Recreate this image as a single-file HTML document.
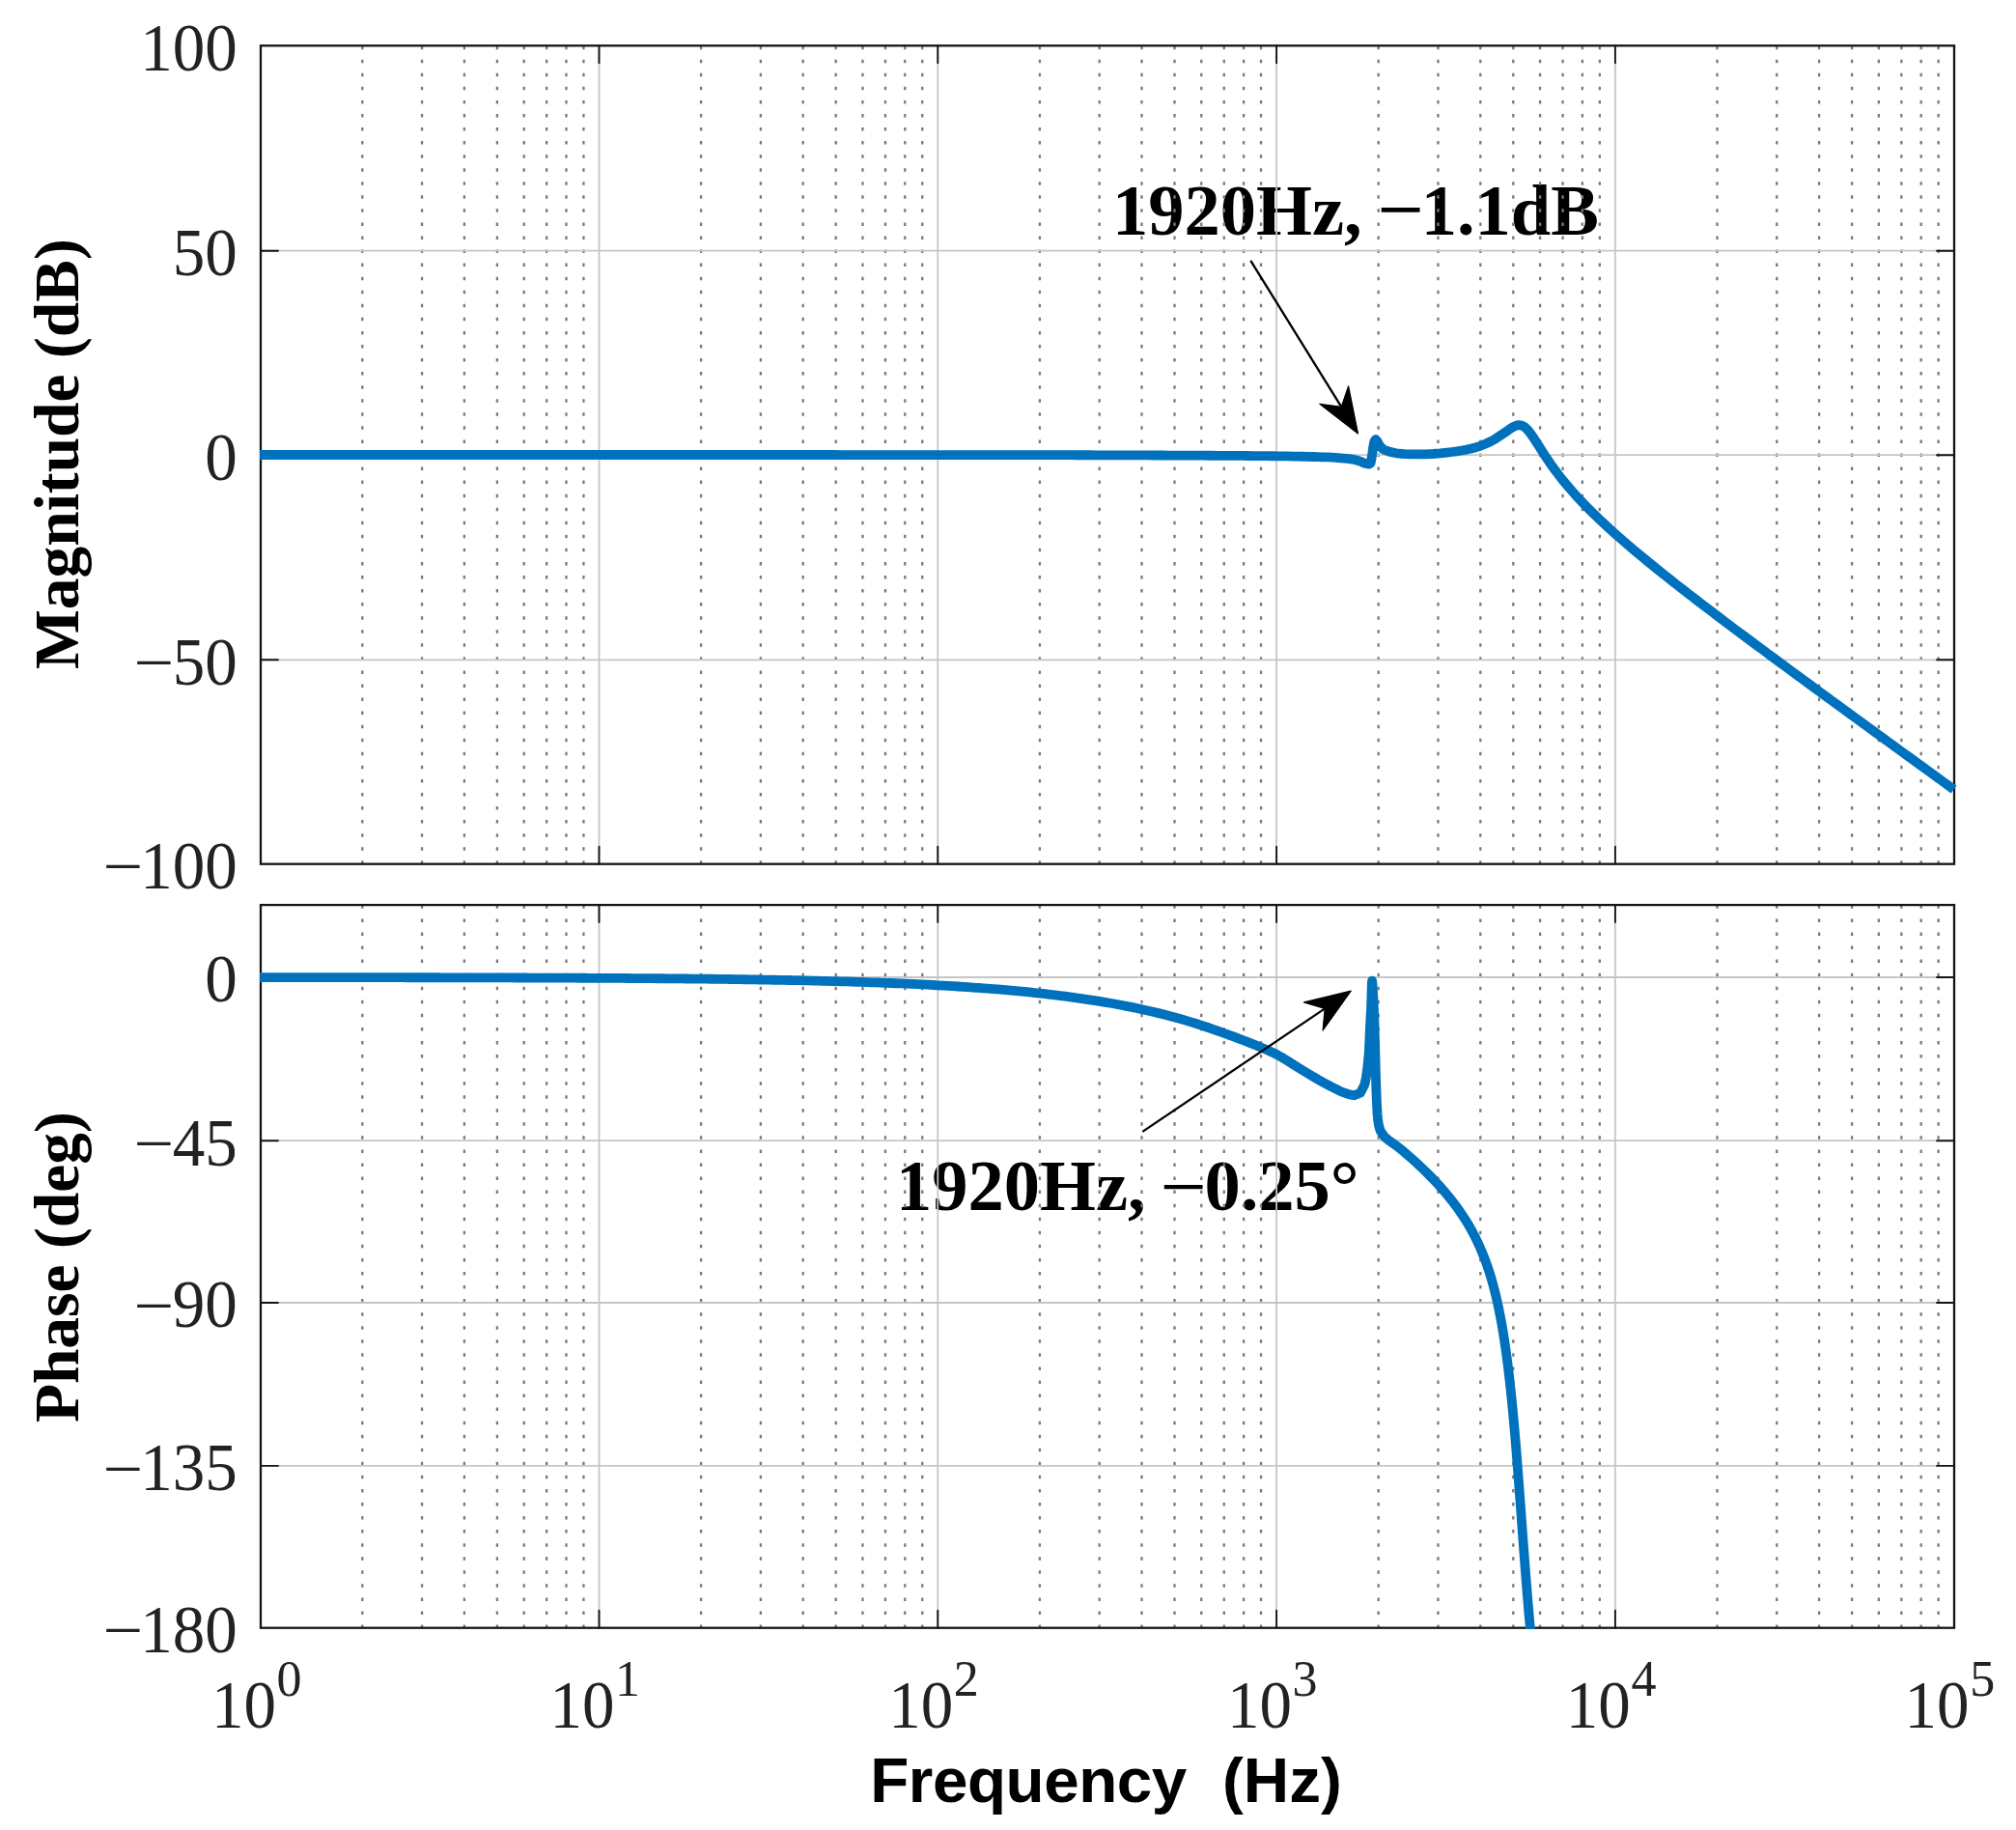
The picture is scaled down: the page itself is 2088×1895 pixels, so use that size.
<!DOCTYPE html>
<html><head><meta charset="utf-8"><title>Bode plot</title>
<style>
html,body{margin:0;padding:0;background:#fff;overflow:hidden;}
svg{display:block;}
.tk{font-family:"Liberation Serif",serif;font-size:67px;fill:#222;}
.sup{font-family:"Liberation Serif",serif;font-size:52px;fill:#222;}
.yl{font-family:"Liberation Serif",serif;font-weight:bold;font-size:65.5px;fill:#000;}
.xl{font-family:"Liberation Sans",sans-serif;font-weight:bold;font-size:65.6px;fill:#000;}
.an{font-family:"Liberation Serif",serif;font-weight:bold;font-size:74.5px;fill:#000;}
</style></head><body>
<svg width="2088" height="1895" viewBox="0 0 2088 1895">
<rect width="2088" height="1895" fill="#fff"/>

<defs>
<clipPath id="c1"><rect x="269.1" y="47.3" width="1766.9" height="847.4000000000001"/></clipPath>
<clipPath id="c2"><rect x="269.1" y="937.1" width="1754.9" height="749.6"/></clipPath>
</defs>
<text class="an" x="1152" y="242.7">1920Hz,</text>
<text transform="translate(1426.24,248.37) scale(1,1.080)" font-family="Liberation Serif, serif" font-size="85.54" fill="#000">−</text>
<text class="an" x="1471.7" y="242.7">1.1dB</text>
<text class="an" x="928" y="1252.5">1920Hz,</text>
<text transform="translate(1201.74,1257.77) scale(1,1.009)" font-family="Liberation Serif, serif" font-size="85.54" fill="#000">−</text>
<text class="an" x="1247.4" y="1252.5">0.25°</text>
<line x1="375.30" y1="47.65" x2="375.30" y2="894.70" stroke="#797979" stroke-width="2.3" stroke-dasharray="3.5 10.56"/>
<line x1="437.07" y1="47.65" x2="437.07" y2="894.70" stroke="#797979" stroke-width="2.3" stroke-dasharray="3.5 10.56"/>
<line x1="480.90" y1="47.65" x2="480.90" y2="894.70" stroke="#797979" stroke-width="2.3" stroke-dasharray="3.5 10.56"/>
<line x1="514.90" y1="47.65" x2="514.90" y2="894.70" stroke="#797979" stroke-width="2.3" stroke-dasharray="3.5 10.56"/>
<line x1="542.68" y1="47.65" x2="542.68" y2="894.70" stroke="#797979" stroke-width="2.3" stroke-dasharray="3.5 10.56"/>
<line x1="566.16" y1="47.65" x2="566.16" y2="894.70" stroke="#797979" stroke-width="2.3" stroke-dasharray="3.5 10.56"/>
<line x1="586.50" y1="47.65" x2="586.50" y2="894.70" stroke="#797979" stroke-width="2.3" stroke-dasharray="3.5 10.56"/>
<line x1="604.45" y1="47.65" x2="604.45" y2="894.70" stroke="#797979" stroke-width="2.3" stroke-dasharray="3.5 10.56"/>
<line x1="726.10" y1="47.65" x2="726.10" y2="894.70" stroke="#797979" stroke-width="2.3" stroke-dasharray="3.5 10.56"/>
<line x1="787.87" y1="47.65" x2="787.87" y2="894.70" stroke="#797979" stroke-width="2.3" stroke-dasharray="3.5 10.56"/>
<line x1="831.70" y1="47.65" x2="831.70" y2="894.70" stroke="#797979" stroke-width="2.3" stroke-dasharray="3.5 10.56"/>
<line x1="865.70" y1="47.65" x2="865.70" y2="894.70" stroke="#797979" stroke-width="2.3" stroke-dasharray="3.5 10.56"/>
<line x1="893.48" y1="47.65" x2="893.48" y2="894.70" stroke="#797979" stroke-width="2.3" stroke-dasharray="3.5 10.56"/>
<line x1="916.96" y1="47.65" x2="916.96" y2="894.70" stroke="#797979" stroke-width="2.3" stroke-dasharray="3.5 10.56"/>
<line x1="937.30" y1="47.65" x2="937.30" y2="894.70" stroke="#797979" stroke-width="2.3" stroke-dasharray="3.5 10.56"/>
<line x1="955.25" y1="47.65" x2="955.25" y2="894.70" stroke="#797979" stroke-width="2.3" stroke-dasharray="3.5 10.56"/>
<line x1="1076.90" y1="47.65" x2="1076.90" y2="894.70" stroke="#797979" stroke-width="2.3" stroke-dasharray="3.5 10.56"/>
<line x1="1138.67" y1="47.65" x2="1138.67" y2="894.70" stroke="#797979" stroke-width="2.3" stroke-dasharray="3.5 10.56"/>
<line x1="1182.50" y1="47.65" x2="1182.50" y2="894.70" stroke="#797979" stroke-width="2.3" stroke-dasharray="3.5 10.56"/>
<line x1="1216.50" y1="47.65" x2="1216.50" y2="894.70" stroke="#797979" stroke-width="2.3" stroke-dasharray="3.5 10.56"/>
<line x1="1244.28" y1="47.65" x2="1244.28" y2="894.70" stroke="#797979" stroke-width="2.3" stroke-dasharray="3.5 10.56"/>
<line x1="1267.76" y1="47.65" x2="1267.76" y2="894.70" stroke="#797979" stroke-width="2.3" stroke-dasharray="3.5 10.56"/>
<line x1="1288.10" y1="47.65" x2="1288.10" y2="894.70" stroke="#797979" stroke-width="2.3" stroke-dasharray="3.5 10.56"/>
<line x1="1306.05" y1="47.65" x2="1306.05" y2="894.70" stroke="#797979" stroke-width="2.3" stroke-dasharray="3.5 10.56"/>
<line x1="1427.70" y1="47.65" x2="1427.70" y2="894.70" stroke="#797979" stroke-width="2.3" stroke-dasharray="3.5 10.56"/>
<line x1="1489.47" y1="47.65" x2="1489.47" y2="894.70" stroke="#797979" stroke-width="2.3" stroke-dasharray="3.5 10.56"/>
<line x1="1533.30" y1="47.65" x2="1533.30" y2="894.70" stroke="#797979" stroke-width="2.3" stroke-dasharray="3.5 10.56"/>
<line x1="1567.30" y1="47.65" x2="1567.30" y2="894.70" stroke="#797979" stroke-width="2.3" stroke-dasharray="3.5 10.56"/>
<line x1="1595.08" y1="47.65" x2="1595.08" y2="894.70" stroke="#797979" stroke-width="2.3" stroke-dasharray="3.5 10.56"/>
<line x1="1618.56" y1="47.65" x2="1618.56" y2="894.70" stroke="#797979" stroke-width="2.3" stroke-dasharray="3.5 10.56"/>
<line x1="1638.90" y1="47.65" x2="1638.90" y2="894.70" stroke="#797979" stroke-width="2.3" stroke-dasharray="3.5 10.56"/>
<line x1="1656.85" y1="47.65" x2="1656.85" y2="894.70" stroke="#797979" stroke-width="2.3" stroke-dasharray="3.5 10.56"/>
<line x1="1778.50" y1="47.65" x2="1778.50" y2="894.70" stroke="#797979" stroke-width="2.3" stroke-dasharray="3.5 10.56"/>
<line x1="1840.27" y1="47.65" x2="1840.27" y2="894.70" stroke="#797979" stroke-width="2.3" stroke-dasharray="3.5 10.56"/>
<line x1="1884.10" y1="47.65" x2="1884.10" y2="894.70" stroke="#797979" stroke-width="2.3" stroke-dasharray="3.5 10.56"/>
<line x1="1918.10" y1="47.65" x2="1918.10" y2="894.70" stroke="#797979" stroke-width="2.3" stroke-dasharray="3.5 10.56"/>
<line x1="1945.88" y1="47.65" x2="1945.88" y2="894.70" stroke="#797979" stroke-width="2.3" stroke-dasharray="3.5 10.56"/>
<line x1="1969.36" y1="47.65" x2="1969.36" y2="894.70" stroke="#797979" stroke-width="2.3" stroke-dasharray="3.5 10.56"/>
<line x1="1989.70" y1="47.65" x2="1989.70" y2="894.70" stroke="#797979" stroke-width="2.3" stroke-dasharray="3.5 10.56"/>
<line x1="2007.65" y1="47.65" x2="2007.65" y2="894.70" stroke="#797979" stroke-width="2.3" stroke-dasharray="3.5 10.56"/>
<line x1="620.50" y1="47.30" x2="620.50" y2="894.70" stroke="#c6c6c6" stroke-width="1.8"/>
<line x1="971.30" y1="47.30" x2="971.30" y2="894.70" stroke="#c6c6c6" stroke-width="1.8"/>
<line x1="1322.10" y1="47.30" x2="1322.10" y2="894.70" stroke="#c6c6c6" stroke-width="1.8"/>
<line x1="1672.90" y1="47.30" x2="1672.90" y2="894.70" stroke="#c6c6c6" stroke-width="1.8"/>
<line x1="270.00" y1="259.70" x2="2024.00" y2="259.70" stroke="#c6c6c6" stroke-width="1.8"/>
<line x1="270.00" y1="471.20" x2="2024.00" y2="471.20" stroke="#c6c6c6" stroke-width="1.8"/>
<line x1="270.00" y1="683.30" x2="2024.00" y2="683.30" stroke="#c6c6c6" stroke-width="1.8"/>
<line x1="375.30" y1="937.35" x2="375.30" y2="1685.70" stroke="#797979" stroke-width="2.3" stroke-dasharray="3.5 10.56"/>
<line x1="437.07" y1="937.35" x2="437.07" y2="1685.70" stroke="#797979" stroke-width="2.3" stroke-dasharray="3.5 10.56"/>
<line x1="480.90" y1="937.35" x2="480.90" y2="1685.70" stroke="#797979" stroke-width="2.3" stroke-dasharray="3.5 10.56"/>
<line x1="514.90" y1="937.35" x2="514.90" y2="1685.70" stroke="#797979" stroke-width="2.3" stroke-dasharray="3.5 10.56"/>
<line x1="542.68" y1="937.35" x2="542.68" y2="1685.70" stroke="#797979" stroke-width="2.3" stroke-dasharray="3.5 10.56"/>
<line x1="566.16" y1="937.35" x2="566.16" y2="1685.70" stroke="#797979" stroke-width="2.3" stroke-dasharray="3.5 10.56"/>
<line x1="586.50" y1="937.35" x2="586.50" y2="1685.70" stroke="#797979" stroke-width="2.3" stroke-dasharray="3.5 10.56"/>
<line x1="604.45" y1="937.35" x2="604.45" y2="1685.70" stroke="#797979" stroke-width="2.3" stroke-dasharray="3.5 10.56"/>
<line x1="726.10" y1="937.35" x2="726.10" y2="1685.70" stroke="#797979" stroke-width="2.3" stroke-dasharray="3.5 10.56"/>
<line x1="787.87" y1="937.35" x2="787.87" y2="1685.70" stroke="#797979" stroke-width="2.3" stroke-dasharray="3.5 10.56"/>
<line x1="831.70" y1="937.35" x2="831.70" y2="1685.70" stroke="#797979" stroke-width="2.3" stroke-dasharray="3.5 10.56"/>
<line x1="865.70" y1="937.35" x2="865.70" y2="1685.70" stroke="#797979" stroke-width="2.3" stroke-dasharray="3.5 10.56"/>
<line x1="893.48" y1="937.35" x2="893.48" y2="1685.70" stroke="#797979" stroke-width="2.3" stroke-dasharray="3.5 10.56"/>
<line x1="916.96" y1="937.35" x2="916.96" y2="1685.70" stroke="#797979" stroke-width="2.3" stroke-dasharray="3.5 10.56"/>
<line x1="937.30" y1="937.35" x2="937.30" y2="1685.70" stroke="#797979" stroke-width="2.3" stroke-dasharray="3.5 10.56"/>
<line x1="955.25" y1="937.35" x2="955.25" y2="1685.70" stroke="#797979" stroke-width="2.3" stroke-dasharray="3.5 10.56"/>
<line x1="1076.90" y1="937.35" x2="1076.90" y2="1685.70" stroke="#797979" stroke-width="2.3" stroke-dasharray="3.5 10.56"/>
<line x1="1138.67" y1="937.35" x2="1138.67" y2="1685.70" stroke="#797979" stroke-width="2.3" stroke-dasharray="3.5 10.56"/>
<line x1="1182.50" y1="937.35" x2="1182.50" y2="1685.70" stroke="#797979" stroke-width="2.3" stroke-dasharray="3.5 10.56"/>
<line x1="1216.50" y1="937.35" x2="1216.50" y2="1685.70" stroke="#797979" stroke-width="2.3" stroke-dasharray="3.5 10.56"/>
<line x1="1244.28" y1="937.35" x2="1244.28" y2="1685.70" stroke="#797979" stroke-width="2.3" stroke-dasharray="3.5 10.56"/>
<line x1="1267.76" y1="937.35" x2="1267.76" y2="1685.70" stroke="#797979" stroke-width="2.3" stroke-dasharray="3.5 10.56"/>
<line x1="1288.10" y1="937.35" x2="1288.10" y2="1685.70" stroke="#797979" stroke-width="2.3" stroke-dasharray="3.5 10.56"/>
<line x1="1306.05" y1="937.35" x2="1306.05" y2="1685.70" stroke="#797979" stroke-width="2.3" stroke-dasharray="3.5 10.56"/>
<line x1="1427.70" y1="937.35" x2="1427.70" y2="1685.70" stroke="#797979" stroke-width="2.3" stroke-dasharray="3.5 10.56"/>
<line x1="1489.47" y1="937.35" x2="1489.47" y2="1685.70" stroke="#797979" stroke-width="2.3" stroke-dasharray="3.5 10.56"/>
<line x1="1533.30" y1="937.35" x2="1533.30" y2="1685.70" stroke="#797979" stroke-width="2.3" stroke-dasharray="3.5 10.56"/>
<line x1="1567.30" y1="937.35" x2="1567.30" y2="1685.70" stroke="#797979" stroke-width="2.3" stroke-dasharray="3.5 10.56"/>
<line x1="1595.08" y1="937.35" x2="1595.08" y2="1685.70" stroke="#797979" stroke-width="2.3" stroke-dasharray="3.5 10.56"/>
<line x1="1618.56" y1="937.35" x2="1618.56" y2="1685.70" stroke="#797979" stroke-width="2.3" stroke-dasharray="3.5 10.56"/>
<line x1="1638.90" y1="937.35" x2="1638.90" y2="1685.70" stroke="#797979" stroke-width="2.3" stroke-dasharray="3.5 10.56"/>
<line x1="1656.85" y1="937.35" x2="1656.85" y2="1685.70" stroke="#797979" stroke-width="2.3" stroke-dasharray="3.5 10.56"/>
<line x1="1778.50" y1="937.35" x2="1778.50" y2="1685.70" stroke="#797979" stroke-width="2.3" stroke-dasharray="3.5 10.56"/>
<line x1="1840.27" y1="937.35" x2="1840.27" y2="1685.70" stroke="#797979" stroke-width="2.3" stroke-dasharray="3.5 10.56"/>
<line x1="1884.10" y1="937.35" x2="1884.10" y2="1685.70" stroke="#797979" stroke-width="2.3" stroke-dasharray="3.5 10.56"/>
<line x1="1918.10" y1="937.35" x2="1918.10" y2="1685.70" stroke="#797979" stroke-width="2.3" stroke-dasharray="3.5 10.56"/>
<line x1="1945.88" y1="937.35" x2="1945.88" y2="1685.70" stroke="#797979" stroke-width="2.3" stroke-dasharray="3.5 10.56"/>
<line x1="1969.36" y1="937.35" x2="1969.36" y2="1685.70" stroke="#797979" stroke-width="2.3" stroke-dasharray="3.5 10.56"/>
<line x1="1989.70" y1="937.35" x2="1989.70" y2="1685.70" stroke="#797979" stroke-width="2.3" stroke-dasharray="3.5 10.56"/>
<line x1="2007.65" y1="937.35" x2="2007.65" y2="1685.70" stroke="#797979" stroke-width="2.3" stroke-dasharray="3.5 10.56"/>
<line x1="620.50" y1="937.10" x2="620.50" y2="1685.70" stroke="#c6c6c6" stroke-width="1.8"/>
<line x1="971.30" y1="937.10" x2="971.30" y2="1685.70" stroke="#c6c6c6" stroke-width="1.8"/>
<line x1="1322.10" y1="937.10" x2="1322.10" y2="1685.70" stroke="#c6c6c6" stroke-width="1.8"/>
<line x1="1672.90" y1="937.10" x2="1672.90" y2="1685.70" stroke="#c6c6c6" stroke-width="1.8"/>
<line x1="270.00" y1="1012.00" x2="2024.00" y2="1012.00" stroke="#c6c6c6" stroke-width="1.8"/>
<line x1="270.00" y1="1181.20" x2="2024.00" y2="1181.20" stroke="#c6c6c6" stroke-width="1.8"/>
<line x1="270.00" y1="1349.00" x2="2024.00" y2="1349.00" stroke="#c6c6c6" stroke-width="1.8"/>
<line x1="270.00" y1="1517.90" x2="2024.00" y2="1517.90" stroke="#c6c6c6" stroke-width="1.8"/>
<line x1="620.50" y1="47.30" x2="620.50" y2="65.30" stroke="#141414" stroke-width="1.9" stroke-linecap="round"/>
<line x1="620.50" y1="894.70" x2="620.50" y2="876.70" stroke="#141414" stroke-width="1.9" stroke-linecap="round"/>
<line x1="971.30" y1="47.30" x2="971.30" y2="65.30" stroke="#141414" stroke-width="1.9" stroke-linecap="round"/>
<line x1="971.30" y1="894.70" x2="971.30" y2="876.70" stroke="#141414" stroke-width="1.9" stroke-linecap="round"/>
<line x1="1322.10" y1="47.30" x2="1322.10" y2="65.30" stroke="#141414" stroke-width="1.9" stroke-linecap="round"/>
<line x1="1322.10" y1="894.70" x2="1322.10" y2="876.70" stroke="#141414" stroke-width="1.9" stroke-linecap="round"/>
<line x1="1672.90" y1="47.30" x2="1672.90" y2="65.30" stroke="#141414" stroke-width="1.9" stroke-linecap="round"/>
<line x1="1672.90" y1="894.70" x2="1672.90" y2="876.70" stroke="#141414" stroke-width="1.9" stroke-linecap="round"/>
<line x1="270.00" y1="259.70" x2="288.00" y2="259.70" stroke="#141414" stroke-width="1.9" stroke-linecap="round"/>
<line x1="2024.00" y1="259.70" x2="2006.00" y2="259.70" stroke="#141414" stroke-width="1.9" stroke-linecap="round"/>
<line x1="270.00" y1="471.20" x2="288.00" y2="471.20" stroke="#141414" stroke-width="1.9" stroke-linecap="round"/>
<line x1="2024.00" y1="471.20" x2="2006.00" y2="471.20" stroke="#141414" stroke-width="1.9" stroke-linecap="round"/>
<line x1="270.00" y1="683.30" x2="288.00" y2="683.30" stroke="#141414" stroke-width="1.9" stroke-linecap="round"/>
<line x1="2024.00" y1="683.30" x2="2006.00" y2="683.30" stroke="#141414" stroke-width="1.9" stroke-linecap="round"/>
<rect x="270.00" y="47.30" width="1754.00" height="847.40" fill="none" stroke="#141414" stroke-width="2.3"/>
<line x1="620.50" y1="937.10" x2="620.50" y2="955.10" stroke="#141414" stroke-width="1.9" stroke-linecap="round"/>
<line x1="620.50" y1="1685.70" x2="620.50" y2="1667.70" stroke="#141414" stroke-width="1.9" stroke-linecap="round"/>
<line x1="971.30" y1="937.10" x2="971.30" y2="955.10" stroke="#141414" stroke-width="1.9" stroke-linecap="round"/>
<line x1="971.30" y1="1685.70" x2="971.30" y2="1667.70" stroke="#141414" stroke-width="1.9" stroke-linecap="round"/>
<line x1="1322.10" y1="937.10" x2="1322.10" y2="955.10" stroke="#141414" stroke-width="1.9" stroke-linecap="round"/>
<line x1="1322.10" y1="1685.70" x2="1322.10" y2="1667.70" stroke="#141414" stroke-width="1.9" stroke-linecap="round"/>
<line x1="1672.90" y1="937.10" x2="1672.90" y2="955.10" stroke="#141414" stroke-width="1.9" stroke-linecap="round"/>
<line x1="1672.90" y1="1685.70" x2="1672.90" y2="1667.70" stroke="#141414" stroke-width="1.9" stroke-linecap="round"/>
<line x1="270.00" y1="1012.00" x2="288.00" y2="1012.00" stroke="#141414" stroke-width="1.9" stroke-linecap="round"/>
<line x1="2024.00" y1="1012.00" x2="2006.00" y2="1012.00" stroke="#141414" stroke-width="1.9" stroke-linecap="round"/>
<line x1="270.00" y1="1181.20" x2="288.00" y2="1181.20" stroke="#141414" stroke-width="1.9" stroke-linecap="round"/>
<line x1="2024.00" y1="1181.20" x2="2006.00" y2="1181.20" stroke="#141414" stroke-width="1.9" stroke-linecap="round"/>
<line x1="270.00" y1="1349.00" x2="288.00" y2="1349.00" stroke="#141414" stroke-width="1.9" stroke-linecap="round"/>
<line x1="2024.00" y1="1349.00" x2="2006.00" y2="1349.00" stroke="#141414" stroke-width="1.9" stroke-linecap="round"/>
<line x1="270.00" y1="1517.90" x2="288.00" y2="1517.90" stroke="#141414" stroke-width="1.9" stroke-linecap="round"/>
<line x1="2024.00" y1="1517.90" x2="2006.00" y2="1517.90" stroke="#141414" stroke-width="1.9" stroke-linecap="round"/>
<rect x="270.00" y="937.10" width="1754.00" height="748.60" fill="none" stroke="#141414" stroke-width="2.3"/>
<path d="M268.00,471.00 L273.03,471.00 L278.06,471.00 L283.09,471.00 L288.11,471.00 L293.14,471.00 L298.17,471.00 L303.20,471.00 L308.23,471.00 L313.26,471.00 L318.29,471.00 L323.31,471.00 L328.34,471.00 L333.37,471.00 L338.40,471.00 L343.43,471.00 L348.46,471.00 L353.49,471.00 L358.51,471.00 L363.54,471.00 L368.57,471.00 L373.60,471.00 L378.63,471.00 L383.66,471.00 L388.69,471.00 L393.71,471.00 L398.74,471.00 L403.77,471.00 L408.80,471.00 L413.83,471.00 L418.86,471.00 L423.89,471.00 L428.91,471.00 L433.94,471.00 L438.97,471.00 L444.00,471.00 L449.03,471.00 L454.06,471.00 L459.09,471.00 L464.11,471.00 L469.14,471.00 L474.17,471.00 L479.20,471.00 L484.23,471.00 L489.26,471.00 L494.29,471.00 L499.31,471.00 L504.34,471.00 L509.37,471.00 L514.40,471.00 L519.43,471.00 L524.46,471.00 L529.49,471.00 L534.51,471.00 L539.54,471.00 L544.57,471.00 L549.60,471.00 L554.63,471.00 L559.66,471.00 L564.69,471.00 L569.71,471.00 L574.74,471.00 L579.77,471.00 L584.80,471.00 L589.83,471.00 L594.86,471.00 L599.89,471.00 L604.91,471.00 L609.94,471.00 L614.97,471.00 L620.00,471.00 L625.01,471.00 L630.03,471.00 L635.04,471.00 L640.06,471.00 L645.07,471.00 L650.09,471.00 L655.10,471.00 L660.11,471.00 L665.13,471.00 L670.14,471.00 L675.16,471.00 L680.17,471.00 L685.19,471.00 L690.20,471.00 L695.21,471.00 L700.23,471.00 L705.24,471.00 L710.26,471.00 L715.27,471.00 L720.29,471.00 L725.30,471.00 L730.31,471.00 L735.33,471.01 L740.34,471.01 L745.36,471.01 L750.37,471.01 L755.39,471.01 L760.40,471.01 L765.41,471.01 L770.43,471.01 L775.44,471.01 L780.46,471.01 L785.47,471.01 L790.49,471.01 L795.50,471.01 L800.51,471.01 L805.53,471.01 L810.54,471.01 L815.56,471.02 L820.57,471.02 L825.59,471.02 L830.60,471.02 L835.61,471.02 L840.63,471.02 L845.64,471.02 L850.66,471.02 L855.67,471.02 L860.69,471.02 L865.70,471.02 L870.71,471.03 L875.73,471.03 L880.74,471.03 L885.76,471.03 L890.77,471.03 L895.79,471.03 L900.80,471.03 L905.81,471.03 L910.83,471.03 L915.84,471.04 L920.86,471.04 L925.87,471.04 L930.89,471.04 L935.90,471.04 L940.91,471.04 L945.93,471.04 L950.94,471.04 L955.96,471.05 L960.97,471.05 L965.99,471.05 L971.00,471.05 L976.16,471.05 L981.32,471.05 L986.48,471.06 L991.64,471.06 L996.80,471.06 L1001.96,471.07 L1007.12,471.07 L1012.28,471.08 L1017.44,471.08 L1022.60,471.09 L1027.76,471.09 L1032.92,471.10 L1038.08,471.11 L1043.24,471.11 L1048.40,471.12 L1053.56,471.13 L1058.72,471.13 L1063.88,471.14 L1069.04,471.15 L1074.20,471.16 L1079.36,471.17 L1084.52,471.17 L1089.68,471.18 L1094.84,471.19 L1100.00,471.20 L1105.00,471.21 L1110.00,471.22 L1115.00,471.23 L1120.00,471.24 L1125.00,471.25 L1130.00,471.26 L1135.00,471.28 L1140.00,471.29 L1145.00,471.31 L1150.00,471.32 L1155.00,471.34 L1160.00,471.35 L1165.00,471.37 L1170.00,471.39 L1175.00,471.40 L1180.00,471.42 L1185.00,471.44 L1190.00,471.46 L1195.00,471.48 L1200.00,471.50 L1205.13,471.52 L1210.25,471.54 L1215.38,471.56 L1220.50,471.59 L1225.63,471.61 L1230.75,471.63 L1235.88,471.66 L1241.00,471.68 L1246.13,471.71 L1251.25,471.74 L1256.38,471.77 L1261.50,471.80 L1266.63,471.83 L1271.75,471.86 L1276.88,471.90 L1282.00,471.94 L1287.13,471.97 L1292.25,472.01 L1297.38,472.06 L1302.50,472.10 L1307.63,472.15 L1312.75,472.20 L1317.88,472.25 L1323.00,472.30 L1328.29,472.36 L1333.57,472.44 L1338.86,472.53 L1344.14,472.63 L1349.43,472.75 L1354.72,472.87 L1360.00,473.00 L1365.00,473.13 L1370.00,473.29 L1375.00,473.47 L1380.00,473.70 L1385.88,474.07 L1391.75,474.58 L1397.60,475.20 L1402.30,475.90 L1409.00,477.80 L1412.70,479.40 L1416.00,480.30 L1418.00,480.50 L1419.60,479.50 L1421.00,472.00 L1422.20,463.00 L1423.40,457.00 L1424.80,455.00 L1426.30,456.60 L1429.10,462.00 L1433.00,465.50 L1439.50,467.90 L1446.00,469.30 L1454.40,470.10 L1461.85,470.32 L1469.30,470.40 L1476.75,470.28 L1484.20,470.00 L1491.61,469.43 L1499.00,468.60 L1503.98,467.99 L1508.95,467.30 L1513.90,466.50 L1518.91,465.57 L1523.89,464.48 L1528.80,463.20 L1533.87,461.54 L1538.86,459.54 L1543.70,457.30 L1548.79,454.44 L1553.71,451.20 L1558.60,447.90 L1562.76,444.97 L1567.00,442.23 L1570.00,440.81 L1573.00,440.15 L1576.00,440.54 L1579.00,442.15 L1582.00,444.92 L1585.00,448.61 L1588.00,452.90 L1591.00,457.51 L1594.00,462.24 L1597.00,466.95 L1600.00,471.57 L1603.00,476.07 L1606.00,480.42 L1609.00,484.62 L1612.00,488.69 L1615.00,492.61 L1618.00,496.42 L1621.00,500.11 L1624.94,504.76 L1628.93,509.36 L1633.00,513.90 L1636.94,518.14 L1640.95,522.34 L1645.00,526.48 L1648.96,530.43 L1652.96,534.33 L1657.00,538.20 L1660.97,541.93 L1664.97,545.63 L1669.00,549.29 L1672.98,552.86 L1676.98,556.39 L1681.00,559.91 L1684.98,563.35 L1688.98,566.76 L1693.00,570.16 L1696.99,573.50 L1700.99,576.83 L1705.00,580.13 L1708.99,583.40 L1712.99,586.64 L1717.00,589.88 L1720.99,593.08 L1724.99,596.27 L1729.00,599.45 L1732.99,602.60 L1736.99,605.74 L1741.00,608.87 L1744.99,611.98 L1748.99,615.08 L1753.00,618.17 L1757.00,621.25 L1761.00,624.31 L1765.00,627.38 L1769.00,630.42 L1773.00,633.46 L1777.00,636.50 L1781.00,639.52 L1785.00,642.54 L1789.00,645.56 L1793.00,648.56 L1797.00,651.56 L1801.00,654.56 L1807.00,659.04 L1813.00,663.51 L1819.00,667.97 L1825.00,672.43 L1831.00,676.87 L1837.00,681.31 L1843.00,685.74 L1849.00,690.16 L1855.00,694.58 L1861.00,698.99 L1867.00,703.40 L1873.00,707.80 L1879.00,712.20 L1885.00,716.60 L1891.00,720.99 L1897.00,725.38 L1903.00,729.76 L1909.00,734.14 L1915.00,738.52 L1921.00,742.90 L1927.00,747.27 L1933.00,751.65 L1939.00,756.02 L1945.00,760.39 L1951.00,764.75 L1957.00,769.12 L1963.00,773.48 L1969.00,777.85 L1975.00,782.21 L1981.00,786.57 L1987.00,790.93 L1993.00,795.29 L1999.00,799.65 L2005.00,804.01 L2011.00,808.36 L2017.00,812.72 L2023.60,817.51" fill="none" stroke="#0072BD" stroke-width="9.8" stroke-linejoin="round" stroke-linecap="butt" clip-path="url(#c1)"/>
<path d="M268.00,1012.00 L270.00,1012.08 L275.07,1012.10 L280.14,1012.11 L285.21,1012.12 L290.28,1012.13 L295.35,1012.14 L300.42,1012.15 L305.49,1012.16 L310.56,1012.16 L315.63,1012.17 L320.71,1012.17 L325.78,1012.18 L330.85,1012.18 L335.92,1012.18 L340.99,1012.19 L346.07,1012.19 L351.14,1012.19 L356.21,1012.19 L361.28,1012.20 L366.36,1012.20 L371.43,1012.20 L376.50,1012.20 L381.58,1012.20 L386.65,1012.21 L391.72,1012.21 L396.79,1012.21 L401.87,1012.21 L406.94,1012.22 L412.01,1012.22 L417.09,1012.22 L422.16,1012.23 L427.23,1012.24 L432.30,1012.24 L437.37,1012.25 L442.47,1012.26 L447.56,1012.27 L452.66,1012.27 L457.75,1012.28 L462.85,1012.29 L467.95,1012.30 L473.04,1012.31 L478.14,1012.33 L483.23,1012.34 L488.33,1012.35 L493.42,1012.36 L498.52,1012.38 L503.61,1012.39 L508.71,1012.40 L513.80,1012.42 L518.90,1012.43 L523.99,1012.45 L529.09,1012.47 L534.18,1012.48 L539.28,1012.50 L544.37,1012.52 L549.47,1012.54 L554.56,1012.55 L559.66,1012.57 L564.75,1012.59 L569.85,1012.61 L574.94,1012.63 L580.04,1012.65 L585.13,1012.67 L590.23,1012.69 L595.32,1012.72 L600.42,1012.74 L605.51,1012.76 L610.61,1012.78 L615.70,1012.81 L620.80,1012.83 L625.83,1012.85 L630.86,1012.88 L635.89,1012.91 L640.91,1012.94 L645.94,1012.97 L650.97,1013.00 L656.00,1013.04 L661.03,1013.07 L666.06,1013.11 L671.09,1013.15 L676.12,1013.19 L681.14,1013.23 L686.17,1013.27 L691.20,1013.32 L696.23,1013.36 L701.26,1013.41 L706.29,1013.46 L711.32,1013.51 L716.34,1013.56 L721.37,1013.61 L726.40,1013.66 L731.43,1013.71 L736.46,1013.77 L741.49,1013.83 L746.52,1013.89 L751.55,1013.96 L756.57,1014.02 L761.60,1014.09 L766.63,1014.16 L771.66,1014.24 L776.69,1014.32 L781.72,1014.40 L786.75,1014.48 L791.78,1014.56 L796.81,1014.65 L801.83,1014.74 L806.86,1014.83 L811.89,1014.92 L816.92,1015.02 L821.95,1015.12 L826.97,1015.22 L832.00,1015.32 L837.02,1015.43 L842.03,1015.54 L847.05,1015.66 L852.07,1015.78 L857.08,1015.91 L862.10,1016.04 L867.11,1016.18 L872.13,1016.33 L877.14,1016.47 L882.16,1016.63 L887.17,1016.78 L892.19,1016.95 L897.20,1017.11 L902.22,1017.28 L907.23,1017.45 L912.25,1017.63 L917.26,1017.81 L922.70,1018.01 L928.13,1018.23 L933.57,1018.45 L939.00,1018.69 L944.44,1018.93 L949.87,1019.19 L955.30,1019.45 L960.74,1019.73 L966.17,1020.01 L971.60,1020.30 L976.75,1020.59 L981.90,1020.88 L987.05,1021.19 L992.20,1021.51 L997.35,1021.84 L1002.50,1022.18 L1007.65,1022.53 L1012.80,1022.90 L1017.94,1023.27 L1023.09,1023.65 L1028.23,1024.05 L1033.37,1024.45 L1038.86,1024.90 L1044.34,1025.36 L1049.82,1025.85 L1055.30,1026.36 L1060.78,1026.89 L1066.26,1027.44 L1071.73,1028.01 L1077.20,1028.60 L1082.36,1029.18 L1087.52,1029.78 L1092.68,1030.40 L1097.83,1031.04 L1102.99,1031.70 L1108.14,1032.38 L1113.29,1033.08 L1118.44,1033.81 L1123.58,1034.55 L1128.71,1035.31 L1133.85,1036.10 L1138.97,1036.90 L1144.47,1037.80 L1149.97,1038.74 L1155.46,1039.73 L1160.94,1040.76 L1166.42,1041.82 L1171.89,1042.92 L1177.35,1044.04 L1182.80,1045.20 L1188.50,1046.45 L1194.18,1047.76 L1199.85,1049.13 L1205.52,1050.54 L1211.16,1052.00 L1216.80,1053.50 L1222.38,1055.04 L1227.96,1056.65 L1233.51,1058.32 L1239.05,1060.04 L1244.58,1061.80 L1250.47,1063.76 L1256.35,1065.80 L1262.21,1067.90 L1268.06,1070.00 L1273.16,1071.83 L1278.26,1073.69 L1283.34,1075.57 L1288.40,1077.50 L1294.41,1079.87 L1300.40,1082.30 L1306.35,1084.80 L1311.75,1087.10 L1317.13,1089.46 L1322.40,1092.00 L1327.31,1094.71 L1332.11,1097.64 L1336.86,1100.68 L1341.60,1103.74 L1346.40,1106.70 L1351.32,1109.64 L1356.25,1112.60 L1361.18,1115.53 L1366.15,1118.41 L1371.15,1121.21 L1376.20,1123.90 L1381.57,1126.74 L1387.02,1129.46 L1392.60,1131.70 L1397.59,1133.40 L1402.60,1134.30 L1408.90,1131.80 L1413.30,1123.20 L1414.78,1116.35 L1415.80,1109.30 L1416.56,1103.05 L1417.20,1096.78 L1417.70,1090.50 L1418.00,1085.49 L1418.24,1080.47 L1418.46,1075.44 L1418.67,1070.42 L1418.90,1065.40 L1419.16,1060.38 L1419.43,1055.36 L1419.71,1050.34 L1419.97,1045.32 L1420.20,1040.30 L1420.44,1032.97 L1420.64,1024.86 L1420.85,1018.30 L1421.10,1015.60 L1421.46,1018.30 L1421.90,1024.86 L1422.34,1032.96 L1422.70,1040.30 L1422.93,1045.67 L1423.14,1051.04 L1423.34,1056.41 L1423.51,1061.78 L1423.68,1067.15 L1423.84,1072.53 L1424.00,1077.90 L1424.15,1083.29 L1424.30,1088.67 L1424.43,1094.06 L1424.56,1099.44 L1424.70,1104.83 L1424.84,1110.21 L1425.00,1115.60 L1425.16,1120.64 L1425.32,1125.68 L1425.49,1130.72 L1425.68,1135.76 L1425.90,1140.80 L1426.20,1147.08 L1426.57,1153.37 L1427.10,1159.60 L1428.03,1165.39 L1429.60,1170.90 L1434.00,1177.20 L1438.19,1180.82 L1442.80,1184.10 L1448.00,1187.68 L1452.65,1191.52 L1457.25,1195.43 L1461.79,1199.40 L1466.28,1203.43 L1470.72,1207.53 L1475.09,1211.70 L1479.40,1215.95 L1483.64,1220.27 L1487.80,1224.66 L1491.89,1229.14 L1495.89,1233.71 L1499.80,1238.36 L1503.60,1243.10 L1507.30,1247.94 L1510.89,1252.88 L1514.35,1257.92 L1517.68,1263.06 L1520.87,1268.29 L1523.93,1273.63 L1526.83,1279.05 L1529.59,1284.57 L1532.19,1290.16 L1534.65,1295.83 L1536.97,1301.57 L1539.14,1307.36 L1541.18,1313.21 L1543.09,1319.10 L1544.87,1325.03 L1546.55,1330.99 L1548.11,1336.98 L1549.58,1342.99 L1550.96,1349.02 L1552.26,1355.06 L1553.48,1361.11 L1554.63,1367.16 L1555.72,1373.23 L1556.75,1379.30 L1557.72,1385.37 L1558.65,1391.44 L1559.53,1397.52 L1560.37,1403.59 L1561.17,1409.66 L1561.93,1415.73 L1562.67,1421.80 L1563.38,1427.87 L1564.05,1433.94 L1564.71,1440.00 L1565.34,1446.06 L1565.96,1452.11 L1566.55,1458.17 L1567.13,1464.22 L1567.69,1470.26 L1568.23,1476.31 L1568.77,1482.35 L1569.29,1488.38 L1569.80,1494.42 L1570.30,1500.45 L1570.79,1506.47 L1571.27,1512.49 L1571.74,1518.51 L1572.21,1524.53 L1572.68,1530.54 L1573.13,1536.55 L1573.59,1542.56 L1574.04,1548.56 L1574.48,1554.56 L1574.93,1560.55 L1575.37,1566.54 L1575.81,1572.53 L1576.25,1578.51 L1576.69,1584.49 L1577.14,1590.47 L1577.58,1596.44 L1578.02,1602.41 L1578.47,1608.38 L1578.92,1614.34 L1579.38,1620.29 L1579.84,1626.25 L1580.30,1632.20 L1580.77,1638.14 L1581.25,1644.08 L1581.73,1650.02 L1582.23,1655.95 L1582.73,1661.87 L1583.24,1667.79 L1583.76,1673.71 L1584.30,1679.62 L1584.85,1685.52 L1585.41,1691.42 L1585.99,1697.32" fill="none" stroke="#0072BD" stroke-width="9.8" stroke-linejoin="round" stroke-linecap="butt" clip-path="url(#c2)"/>
<text class="tk" transform="translate(245.7,72.6) scale(1,1.04)" text-anchor="end">100</text>
<text class="tk" transform="translate(245.7,285.0) scale(1,1.04)" text-anchor="end">50</text>
<text class="tk" transform="translate(245.7,496.5) scale(1,1.04)" text-anchor="end">0</text>
<text class="tk" transform="translate(245.7,708.6) scale(1,1.04)" text-anchor="end">50</text>
<text transform="translate(138.42,706.97) scale(1,0.842)" font-family="Liberation Serif, serif" font-size="73.93" fill="#222">−</text>
<text class="tk" transform="translate(245.7,920.0) scale(1,1.04)" text-anchor="end">100</text>
<text transform="translate(106.62,918.37) scale(1,0.842)" font-family="Liberation Serif, serif" font-size="73.93" fill="#222">−</text>
<text class="tk" transform="translate(245.7,1037.3) scale(1,1.04)" text-anchor="end">0</text>
<text class="tk" transform="translate(245.7,1206.5) scale(1,1.04)" text-anchor="end">45</text>
<text transform="translate(138.42,1204.87) scale(1,0.842)" font-family="Liberation Serif, serif" font-size="73.93" fill="#222">−</text>
<text class="tk" transform="translate(245.7,1374.3) scale(1,1.04)" text-anchor="end">90</text>
<text transform="translate(138.42,1372.67) scale(1,0.842)" font-family="Liberation Serif, serif" font-size="73.93" fill="#222">−</text>
<text class="tk" transform="translate(245.7,1543.2) scale(1,1.04)" text-anchor="end">135</text>
<text transform="translate(106.62,1541.57) scale(1,0.842)" font-family="Liberation Serif, serif" font-size="73.93" fill="#222">−</text>
<text class="tk" transform="translate(245.7,1711.0) scale(1,1.04)" text-anchor="end">180</text>
<text transform="translate(106.62,1709.37) scale(1,0.842)" font-family="Liberation Serif, serif" font-size="73.93" fill="#222">−</text>
<text class="tk" transform="translate(218.9,1788.6) scale(1,1.04)">10</text><text class="sup" x="286.5" y="1756">0</text>
<text class="tk" transform="translate(569.4,1788.6) scale(1,1.04)">10</text><text class="sup" x="637.0" y="1756">1</text>
<text class="tk" transform="translate(920.2,1788.6) scale(1,1.04)">10</text><text class="sup" x="987.8" y="1756">2</text>
<text class="tk" transform="translate(1271.0,1788.6) scale(1,1.04)">10</text><text class="sup" x="1338.6" y="1756">3</text>
<text class="tk" transform="translate(1621.8,1788.6) scale(1,1.04)">10</text><text class="sup" x="1689.4" y="1756">4</text>
<text class="tk" transform="translate(1972.6,1788.6) scale(1,1.04)">10</text><text class="sup" x="2040.2" y="1756">5</text>
<text class="yl" transform="translate(81,470.2) rotate(-90)" text-anchor="middle">Magnitude (dB)</text>
<text class="yl" transform="translate(81,1312.1) rotate(-90)" text-anchor="middle">Phase (deg)</text>
<text class="xl" x="901.2" y="1866" letter-spacing="-0.45">Frequency</text><text class="xl" x="1266" y="1866">(Hz)</text>
<line x1="1295.3" y1="269.8" x2="1389.3" y2="421.3" stroke="#000" stroke-width="2.3"/>
<polygon points="1406.5,449.0 1366.8,418.3 1389.3,421.3 1396.6,399.9" fill="#000" stroke="#000" stroke-width="1.2" stroke-linejoin="round"/>
<line x1="1183.3" y1="1171.9" x2="1372.2" y2="1044.4" stroke="#000" stroke-width="2.3"/>
<polygon points="1399.2,1026.1 1370.1,1066.9 1372.2,1044.4 1350.5,1037.9" fill="#000" stroke="#000" stroke-width="1.2" stroke-linejoin="round"/>
</svg></body></html>
